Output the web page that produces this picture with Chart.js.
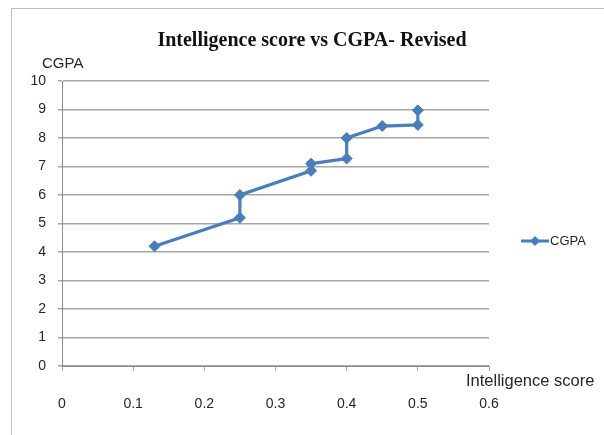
<!DOCTYPE html>
<html>
<head>
<meta charset="utf-8">
<script src="https://cdn.jsdelivr.net/npm/chart.js@4"></script>
<style>
  html, body { margin: 0; padding: 0; background: #fff; }
  #wrap { width: 604px; height: 435px; position: relative; }
</style>
</head>
<body>
<div id="wrap"><canvas id="chart" width="604" height="435"></canvas></div>
<script>
(function () {
  'use strict';

  var scores = [0.13, 0.25, 0.25, 0.35, 0.35, 0.40, 0.40, 0.45, 0.50, 0.50];
  var cgpa = [4.2, 5.2, 6.0, 6.85, 7.1, 7.28, 8.0, 8.42, 8.46, 8.97];
  var xTickLabels = ['0', '0.1', '0.2', '0.3', '0.4', '0.5', '0.6'];
  var yTickLabels = ['0', '1', '2', '3', '4', '5', '6', '7', '8', '9', '10'];

  var BLUE = '#4a7ebb';
  var GRID = '#a6a6a6';
  var TEXT = '#262626';
  var LABEL_FONT = '"Liberation Sans", Arial, sans-serif';

  var points = scores.map(function (s, i) { return { x: s, y: cgpa[i] }; });

  // frame, title, axis titles and the legend are drawn here (Excel-style layout)
  var extras = {
    id: 'extras',
    beforeDraw: function (chart) {
      var ctx = chart.ctx;
      ctx.save();
      ctx.fillStyle = '#fff';
      ctx.fillRect(0, 0, chart.width, chart.height);
      ctx.strokeStyle = '#bdbdbd';
      ctx.lineWidth = 1;
      ctx.strokeRect(11.5, 8.5, chart.width, chart.height);
      ctx.restore();
    },
    afterDraw: function (chart) {
      var ctx = chart.ctx;
      ctx.save();
      ctx.textBaseline = 'middle';

      ctx.fillStyle = '#111';
      ctx.textAlign = 'center';
      ctx.font = 'bold 20px "Liberation Serif", "Times New Roman", serif';
      ctx.fillText('Intelligence score vs CGPA- Revised', 312, 41);

      ctx.fillStyle = TEXT;
      ctx.textAlign = 'left';
      ctx.font = '15px ' + LABEL_FONT;
      ctx.fillText('CGPA', 42, 64);
      ctx.font = '16.5px ' + LABEL_FONT;
      ctx.fillText('Intelligence score', 466, 381);

      // legend
      ctx.strokeStyle = BLUE;
      ctx.lineWidth = 3;
      ctx.beginPath();
      ctx.moveTo(521, 241);
      ctx.lineTo(549, 241);
      ctx.stroke();
      ctx.fillStyle = BLUE;
      ctx.beginPath();
      ctx.moveTo(535, 236);
      ctx.lineTo(540, 241);
      ctx.lineTo(535, 246);
      ctx.lineTo(530, 241);
      ctx.closePath();
      ctx.fill();
      ctx.fillStyle = TEXT;
      ctx.font = '13px ' + LABEL_FONT;
      ctx.fillText('CGPA', 550, 241);
      ctx.restore();
    }
  };

  new Chart(document.getElementById('chart'), {
    type: 'scatter',
    data: {
      datasets: [{
        label: 'CGPA',
        data: points,
        showLine: true,
        borderColor: BLUE,
        backgroundColor: BLUE,
        borderWidth: 3.2,
        pointStyle: 'rectRot',
        pointRadius: 5.5,
        pointHoverRadius: 5.5,
        pointBorderWidth: 1
      }]
    },
    options: {
      responsive: false,
      animation: false,
      layout: { padding: { left: 14, right: 115, top: 81, bottom: 0 } },
      plugins: {
        legend: { display: false },
        tooltip: { enabled: false },
        title: { display: false }
      },
      scales: {
        x: {
          type: 'linear',
          min: 0,
          max: 0.6,
          ticks: {
            stepSize: 0.1,
            color: TEXT,
            font: { family: LABEL_FONT, size: 14 },
            padding: 25,
            maxRotation: 0,
            callback: function (v, i) { return xTickLabels[i]; }
          },
          grid: { drawOnChartArea: false, drawTicks: true, tickLength: 5, color: GRID },
          border: { display: true, color: '#8c8c8c', width: 1 },
          afterFit: function (scale) { scale.height = 69; }
        },
        y: {
          min: 0,
          max: 10,
          ticks: {
            stepSize: 1,
            color: TEXT,
            font: { family: LABEL_FONT, size: 14 },
            padding: 12,
            callback: function (v, i) { return yTickLabels[i]; }
          },
          grid: { color: GRID, lineWidth: 1.5, tickLength: 4 },
          border: { display: true, color: '#8c8c8c', width: 1 },
          afterFit: function (scale) { scale.width = 48; }
        }
      }
    },
    plugins: [extras]
  });
}());
</script>
</body>
</html>
